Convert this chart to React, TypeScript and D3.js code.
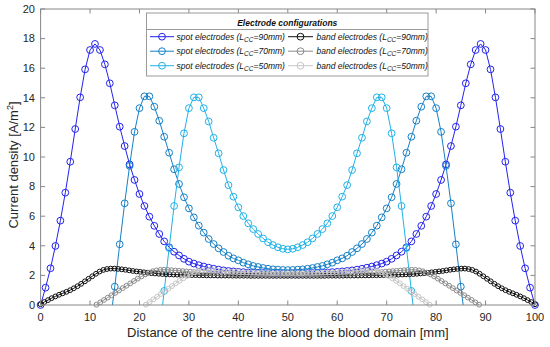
import React from "react";
import * as d3 from "d3";

// ---------- data ----------
const xTicks = [0, 10, 20, 30, 40, 50, 60, 70, 80, 90, 100];
const yTicks = [0, 2, 4, 6, 8, 10, 12, 14, 16, 18, 20];

// spot electrodes, sampled every 1 mm starting at the given x
const spot90Start = 0;
const spot90 = [
  0.0, 1.17, 2.48, 3.99, 5.7, 7.59, 9.68, 11.89, 14.03, 15.92,
  17.23, 17.64, 17.23, 16.26, 14.98, 13.49, 12.05, 10.74, 9.5, 8.45,
  7.5, 6.69, 5.97, 5.35, 4.8, 4.3, 3.9, 3.6, 3.35, 3.12,
  2.93, 2.8, 2.69, 2.6, 2.52, 2.45, 2.39, 2.34, 2.3, 2.27,
  2.24, 2.22, 2.2, 2.18, 2.17, 2.16, 2.15, 2.14, 2.14, 2.13,
  2.13,
  2.13, 2.14, 2.14, 2.15, 2.16, 2.17, 2.18, 2.2, 2.22, 2.24,
  2.27, 2.3, 2.34, 2.39, 2.45, 2.52, 2.6, 2.69, 2.8, 2.93,
  3.12, 3.35, 3.6, 3.9, 4.3, 4.8, 5.35, 5.97, 6.69, 7.5,
  8.45, 9.5, 10.74, 12.05, 13.49, 14.98, 16.26, 17.23, 17.64, 17.23,
  15.92, 14.03, 11.89, 9.68, 7.59, 5.7, 3.99, 2.48, 1.17, 0.0,
];

const spot70Start = 14;
const spot70 = [
  -1.4, 1.24, 4.1, 6.87, 9.4, 11.7, 13.3, 14.1, 14.1, 13.4,
  12.45, 11.37, 10.29, 9.17, 8.18, 7.28, 6.53, 5.92, 5.36, 4.89,
  4.46, 4.12, 3.83, 3.58, 3.33, 3.15, 3.02, 2.86, 2.75, 2.64,
  2.57, 2.5, 2.45, 2.41, 2.39, 2.37, 2.36,
  2.37, 2.39, 2.41, 2.45, 2.5, 2.57, 2.64, 2.75, 2.86, 3.02,
  3.15, 3.33, 3.58, 3.83, 4.12, 4.46, 4.89, 5.36, 5.92, 6.53,
  7.28, 8.18, 9.17, 10.29, 11.37, 12.45, 13.4, 14.1, 14.1, 13.3,
  11.7, 9.4, 6.87, 4.1, 1.24, -1.4,
];

const spot50Start = 24;
const spot50 = [
  -2.0, 0.95, 3.85, 6.69, 9.3, 11.6, 13.3, 14.03, 14.03, 13.3,
  12.4, 11.3, 10.25, 9.12, 8.1, 7.32, 6.6, 6.01, 5.52, 5.13,
  4.8, 4.5, 4.24, 4.05, 3.9, 3.8, 3.76,
  3.8, 3.9, 4.05, 4.24, 4.5, 4.8, 5.13, 5.52, 6.01, 6.6,
  7.32, 8.1, 9.12, 10.25, 11.3, 12.4, 13.3, 14.03, 14.03, 13.3,
  11.6, 9.3, 6.69, 3.85, 0.95, -2.0,
];

// band electrodes, evenly sampled between start and end
const band90Range = [0, 100];
const band90 = [
  0.05, 0.2, 0.33, 0.46, 0.58, 0.69, 0.79, 0.89, 1.0, 1.13,
  1.27, 1.43, 1.6, 1.77, 1.94, 2.11, 2.26, 2.37, 2.43, 2.46,
  2.46, 2.44, 2.41, 2.38, 2.34, 2.3, 2.27, 2.24, 2.21, 2.18,
  2.15, 2.13, 2.11, 2.09, 2.08, 2.07, 2.06, 2.05, 2.04, 2.03,
  2.03, 2.02, 2.02, 2.01, 2.01, 2.0, 2.0, 2.0, 1.99, 1.99,
  1.99, 1.99, 1.98, 1.98, 1.98, 1.98, 1.98, 1.97, 1.97, 1.97,
  1.97, 1.97, 1.97, 1.97, 1.97, 1.97, 1.97, 1.97,
  1.97, 1.97, 1.97, 1.97, 1.97, 1.97, 1.97,
  1.97, 1.97, 1.97, 1.98, 1.98, 1.98, 1.98, 1.98, 1.99, 1.99,
  1.99, 1.99, 2.0, 2.0, 2.0, 2.01, 2.01, 2.02, 2.02, 2.03,
  2.03, 2.04, 2.05, 2.06, 2.07, 2.08, 2.09, 2.11, 2.13, 2.15,
  2.18, 2.21, 2.24, 2.27, 2.3, 2.34, 2.38, 2.41, 2.44, 2.46,
  2.46, 2.43, 2.37, 2.26, 2.11, 1.94, 1.77, 1.6, 1.43, 1.27,
  1.13, 1.0, 0.89, 0.79, 0.69, 0.58, 0.46, 0.33, 0.2, 0.05,
];

const band70Range = [11.3, 88.7];
const band70 = [
  0.02, 0.18, 0.34, 0.5, 0.66, 0.82, 0.98, 1.14, 1.3, 1.46,
  1.62, 1.78, 1.93, 2.07, 2.19, 2.28, 2.34, 2.37, 2.38, 2.37,
  2.35, 2.33, 2.31, 2.29, 2.27, 2.25, 2.23, 2.21, 2.19, 2.17,
  2.16, 2.14, 2.13, 2.12, 2.11, 2.1, 2.09, 2.08, 2.08, 2.07,
  2.07, 2.06, 2.06, 2.06, 2.05, 2.05, 2.05, 2.05, 2.05, 2.05,
  2.05, 2.05,
  2.05,
  2.05, 2.05, 2.05, 2.05, 2.05, 2.05, 2.06, 2.06, 2.06, 2.07,
  2.07, 2.08, 2.08, 2.09, 2.1, 2.11, 2.12, 2.13, 2.14, 2.16,
  2.17, 2.19, 2.21, 2.23, 2.25, 2.27, 2.29, 2.31, 2.33, 2.35,
  2.37, 2.38, 2.37, 2.34, 2.28, 2.19, 2.07, 1.93, 1.78, 1.62,
  1.46, 1.3, 1.14, 0.98, 0.82, 0.66, 0.5, 0.34, 0.18, 0.02,
];

const band50Range = [21.3, 78.7];
const band50 = [
  0.02, 0.2, 0.38, 0.56, 0.74, 0.92, 1.1, 1.28, 1.46, 1.63,
  1.8, 1.96, 2.1, 2.22, 2.3, 2.34, 2.36, 2.36, 2.35, 2.33,
  2.31, 2.29, 2.27, 2.25, 2.24, 2.22, 2.21, 2.2, 2.19, 2.18,
  2.17, 2.17, 2.16, 2.16, 2.15, 2.15, 2.15, 2.15, 2.15,
  2.15, 2.15, 2.15, 2.15, 2.16, 2.16, 2.17, 2.17,
  2.18, 2.19, 2.2, 2.21, 2.22, 2.24, 2.25, 2.27, 2.29, 2.31,
  2.33, 2.35, 2.36, 2.36, 2.34, 2.3, 2.22, 2.1, 1.96, 1.8,
  1.63, 1.46, 1.28, 1.1, 0.92, 0.74, 0.56, 0.38, 0.2, 0.02,
];

const legendTitle = "Electrode configurations";
const seriesNames = ["spot electrodes", "spot electrodes", "spot electrodes", "band electrodes", "band electrodes", "band electrodes"];
const seriesLcc = ["90mm", "70mm", "50mm", "90mm", "70mm", "50mm"];
const seriesColors = ["#2323ee", "#1580c6", "#20b2e8", "#111111", "#8a8a8a", "#c6c6c6"];

// ---------- layout ----------
const W = 550;
const H = 347;
const L = 40.6;
const R = 535;
const T = 9;
const B = 305;
const FONT = "'Liberation Sans', Arial, Helvetica, sans-serif";
const AX = "#878787";

export default function App() {
  const x = d3.scaleLinear().domain([0, 100]).range([L, R]);
  const y = d3.scaleLinear().domain([0, 20]).range([B, T]);

  const intX = (start: number, vals: number[]) => vals.map((_, i) => start + i);
  const rangeX = (r: number[], vals: number[]) => {
    const s = d3.scaleLinear().domain([0, vals.length - 1]).range(r);
    return vals.map((_, i) => s(i));
  };

  const series = [
    { xs: intX(spot90Start, spot90), ys: spot90, r: 3.4 },
    { xs: intX(spot70Start, spot70), ys: spot70, r: 3.4 },
    { xs: intX(spot50Start, spot50), ys: spot50, r: 3.4 },
    { xs: rangeX(band90Range, band90), ys: band90, r: 2.4 },
    { xs: rangeX(band70Range, band70), ys: band70, r: 2.4 },
    { xs: rangeX(band50Range, band50), ys: band50, r: 2.4 },
  ].map((s, i) => ({ ...s, color: seriesColors[i], name: seriesNames[i], lcc: seriesLcc[i] }));

  const line = d3
    .line<[number, number]>()
    .x((d) => x(d[0]))
    .y((d) => y(d[1]));

  const tickLen = 4.5;

  // legend geometry
  const lgL = 146.5, lgR = 428, lgT = 13, lgB = 76, lgSep = 29.5;
  const rowY = [36.7, 51.2, 65.7];
  const colSample = [
    [150, 174],
    [288, 313],
  ];
  const colText = [176.5, 316.5];

  return (
    <svg
      width={W}
      height={H}
      viewBox={`0 0 ${W} ${H}`}
      style={{ position: "absolute", left: 0, top: 0, background: "#fff" }}
      fontFamily={FONT}
    >
      <defs>
        <clipPath id="plotClip">
          <rect x={L} y={T} width={R - L} height={B - T} />
        </clipPath>
      </defs>
      <rect x={0} y={0} width={W} height={H} fill="#fff" />

      {/* data */}
      {series.map((s, si) => {
        const pts: [number, number][] = s.xs.map((xv, i) => [xv, s.ys[i]]);
        return (
          <g key={si}>
            <path d={line(pts) || ""} fill="none" stroke={s.color} strokeWidth={1} clipPath="url(#plotClip)" />
            {pts
              .filter((p) => p[1] >= 0 && p[1] <= 20)
              .map((p, i) => (
                <circle key={i} cx={x(p[0])} cy={y(p[1])} r={s.r} fill="none" stroke={s.color} strokeWidth={1} />
              ))}
          </g>
        );
      })}

      {/* axes box */}
      <rect x={L} y={T} width={R - L} height={B - T} fill="none" stroke={AX} strokeWidth={1} />
      {xTicks.map((t) => (
        <g key={"x" + t}>
          <line x1={x(t)} x2={x(t)} y1={B} y2={B - tickLen} stroke={AX} />
          <line x1={x(t)} x2={x(t)} y1={T} y2={T + tickLen} stroke={AX} />
          <text x={x(t)} y={321} textAnchor="middle" fontSize={11} fill="#262626">
            {t}
          </text>
        </g>
      ))}
      {yTicks.map((t) => (
        <g key={"y" + t}>
          <line x1={L} x2={L + tickLen} y1={y(t)} y2={y(t)} stroke={AX} />
          <line x1={R} x2={R - tickLen} y1={y(t)} y2={y(t)} stroke={AX} />
          <text x={35} y={y(t)} dy="0.35em" textAnchor="end" fontSize={11} fill="#262626">
            {t}
          </text>
        </g>
      ))}

      {/* axis labels */}
      <text x={(L + R) / 2} y={336.5} textAnchor="middle" fontSize={13} fill="#262626">
        Distance of the centre line along the blood domain [mm]
      </text>
      <text transform="translate(18,165) rotate(-90)" textAnchor="middle" fontSize={13} fill="#262626">
        Current density [A/m
        <tspan baselineShift="super" fontSize={9}>
          2
        </tspan>
        ]
      </text>

      {/* legend */}
      <rect x={lgL} y={lgT} width={lgR - lgL} height={lgB - lgT} fill="#fff" stroke="#9a9a9a" strokeWidth={1} />
      <line x1={lgL} x2={lgR} y1={lgSep} y2={lgSep} stroke="#9a9a9a" strokeWidth={1} />
      <text
        x={(lgL + lgR) / 2}
        y={25.8}
        textAnchor="middle"
        fontSize={8.5}
        fontWeight="bold"
        fontStyle="italic"
        fill="#111"
      >
        {legendTitle}
      </text>
      {series.map((s, i) => {
        const col = i < 3 ? 0 : 1;
        const ry = rowY[i % 3];
        const [a, b] = colSample[col];
        return (
          <g key={"lg" + i}>
            <line x1={a} x2={b} y1={ry} y2={ry} stroke={s.color} strokeWidth={1} />
            <circle cx={(a + b) / 2} cy={ry} r={3.4} fill="none" stroke={s.color} strokeWidth={1} />
            <text x={colText[col]} y={ry + 3} fontSize={8.5} fontStyle="italic" fill="#111">
              {s.name} (L
              <tspan fontSize={6.5} dy={2.2}>
                CC
              </tspan>
              <tspan dy={-2.2}>={s.lcc})</tspan>
            </text>
          </g>
        );
      })}
    </svg>
  );
}
